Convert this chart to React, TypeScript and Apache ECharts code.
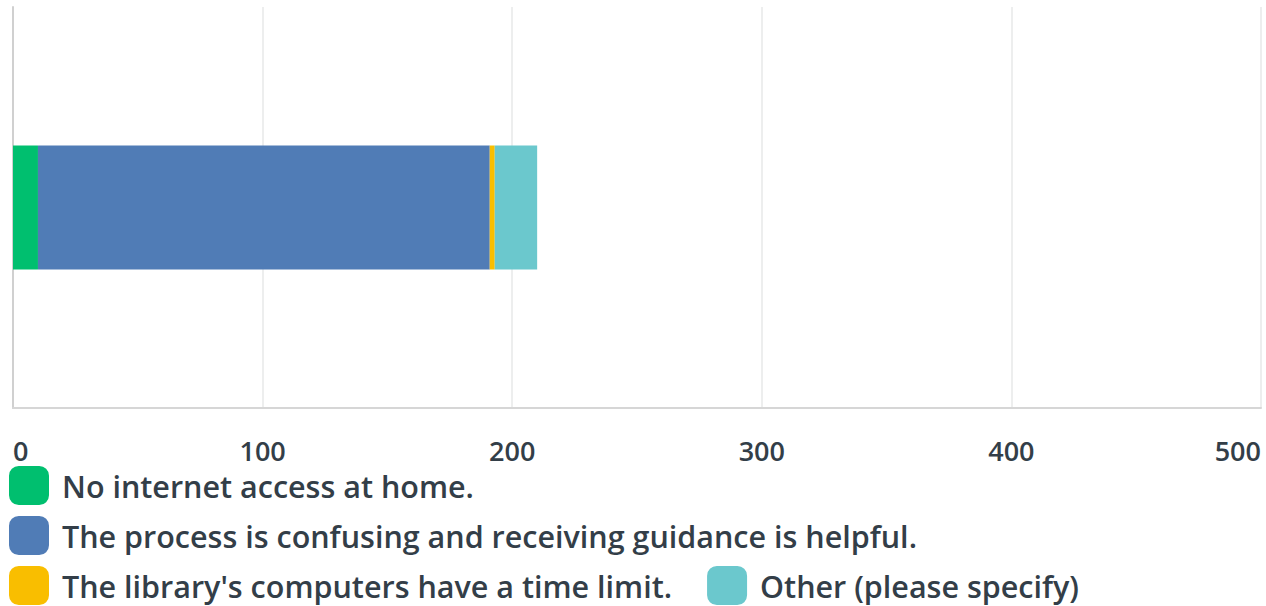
import React, { useEffect, useRef } from "react";
import * as echarts from "echarts";

const categories = [""];
const seriesNames = [
  "No internet access at home.",
  "The process is confusing and receiving guidance is helpful.",
  "The library's computers have a time limit.",
  "Other (please specify)",
];
const seriesValues = [[10], [181], [2], [17]];
const seriesColors = ["#00BF6F", "#507CB6", "#F9BE00", "#6BC8CD"];
const xTicks = [0, 100, 200, 300, 400, 500];

const FONT = "'Open Sans', 'Noto Sans', sans-serif";
const TEXT = "#333E48";

export default function App() {
  const ref = useRef<HTMLDivElement>(null);
  useEffect(() => {
    if (!ref.current) return;
    const chart = echarts.init(ref.current, null, { renderer: "svg" });
    const legendBase = {
      orient: "horizontal",
      icon: "roundRect",
      itemWidth: 40,
      itemHeight: 39,
      itemGap: 35,
      padding: 0,
      selectedMode: false,
      textStyle: {
        fontFamily: FONT,
        fontSize: 30.5,
        lineHeight: 28,
        color: TEXT,
        fontWeight: 600,
        padding: [0, 0, 0, 8],
      },
    };
    chart.setOption({
      animation: false,
      grid: { left: 13, right: 5, top: 7, bottom: 198, containLabel: false },
      xAxis: {
        type: "value",
        min: xTicks[0],
        max: xTicks[xTicks.length - 1],
        interval: 100,
        axisLine: { show: true, lineStyle: { color: "#D6D6D6", width: 2 } },
        axisTick: { show: false },
        splitLine: { show: true, lineStyle: { color: "#EDEEEE", width: 2 } },
        axisLabel: {
          fontFamily: FONT,
          fontSize: 27,
          lineHeight: 22,
          color: TEXT,
          fontWeight: 600,
          margin: 31,
          alignMinLabel: "left",
          alignMaxLabel: "right",
        },
      },
      yAxis: {
        type: "category",
        data: categories,
        axisLine: { show: true, lineStyle: { color: "#D0D0D0", width: 2 } },
        axisTick: { show: false },
        axisLabel: { show: false },
      },
      legend: [
        { ...legendBase, left: 9, top: 466, data: [seriesNames[0]] },
        { ...legendBase, left: 9, top: 516, data: [seriesNames[1]] },
        { ...legendBase, left: 9, top: 566, data: [seriesNames[2], seriesNames[3]] },
      ],
      series: seriesNames.map((name, i) => ({
        name,
        type: "bar",
        stack: "total",
        data: seriesValues[i],
        barWidth: 124,
        itemStyle: { color: seriesColors[i] },
        emphasis: { disabled: true },
      })),
    });
    return () => chart.dispose();
  }, []);
  return (
    <div
      ref={ref}
      style={{ position: "fixed", left: 0, top: 0, width: 1266, height: 606, background: "#fff" }}
    />
  );
}
